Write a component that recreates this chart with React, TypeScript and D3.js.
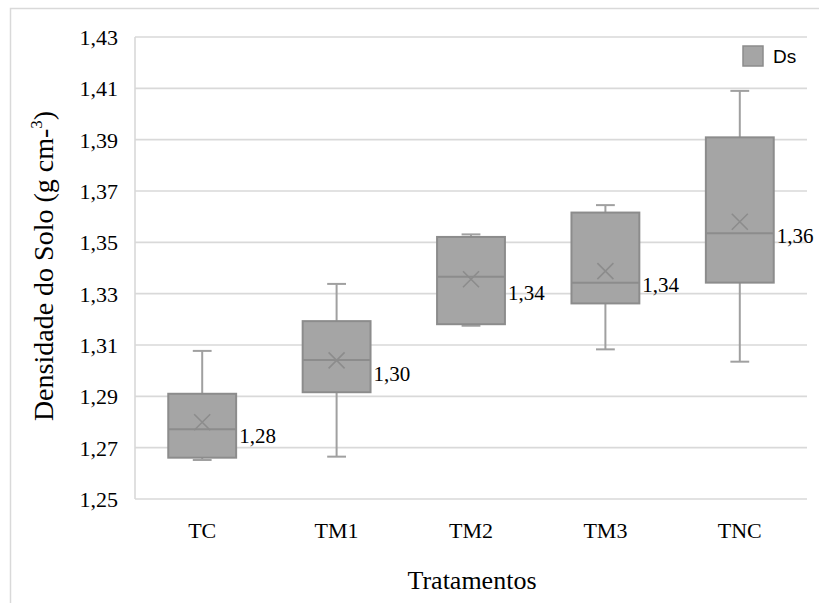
import React from "react";
import * as d3 from "d3";

const categories = ["TC", "TM1", "TM2", "TM3", "TNC"];
const minValues = [1.2652, 1.2665, 1.3175, 1.3083, 1.3035];
const q1Values = [1.2661, 1.2916, 1.3181, 1.3262, 1.3343];
const medianValues = [1.2772, 1.3042, 1.3366, 1.3343, 1.3535];
const q3Values = [1.291, 1.3193, 1.3521, 1.3616, 1.3909];
const maxValues = [1.3077, 1.3338, 1.3531, 1.3645, 1.409];
const meanValues = [1.2799, 1.304, 1.3356, 1.3388, 1.358];
const yTicks = [1.25, 1.27, 1.29, 1.31, 1.33, 1.35, 1.37, 1.39, 1.41, 1.43];
const seriesName = "Ds";

const W = 819;
const H = 603;
const plotLeft = 135;
const plotRight = 807;
const plotTop = 37;
const plotBottom = 499;

const serif = "'Liberation Serif', 'Times New Roman', serif";
const fmt = (v: number) => d3.format(".2f")(v).replace(".", ",");

const App: React.FC = () => {
  const x = d3.scaleBand<string>().domain(categories).range([plotLeft, plotRight]);
  const y = d3
    .scaleLinear()
    .domain([yTicks[0], yTicks[yTicks.length - 1]])
    .range([plotBottom, plotTop]);

  const boxW = x.bandwidth() * 0.505;
  const capW = x.bandwidth() * 0.14;
  const xs = 8;

  return (
    <svg
      width={W}
      height={H}
      style={{ position: "absolute", left: 0, top: 0, background: "#fff" }}
    >
      <rect x={10.5} y={8.5} width={900} height={700} fill="#fff" stroke="#d9d9d9" strokeWidth={1.5} />

      {/* grid */}
      {yTicks.map((t) => (
        <g key={t}>
          <line x1={plotLeft} x2={plotRight} y1={y(t)} y2={y(t)} stroke="#d9d9d9" strokeWidth={1.6} />
          <text
            x={118}
            y={y(t) + 8}
            textAnchor="end"
            fontFamily={serif}
            fontSize={22}
            fill="#000"
          >
            {fmt(t)}
          </text>
        </g>
      ))}
      <line x1={plotLeft} x2={plotLeft} y1={plotTop} y2={plotBottom} stroke="#d9d9d9" strokeWidth={1.6} />

      {/* boxes */}
      {categories.map((c, i) => {
        const cx = (x(c) as number) + x.bandwidth() / 2;
        const left = cx - boxW / 2;
        const my = y(meanValues[i]);
        return (
          <g key={c}>
            <line x1={cx} x2={cx} y1={y(maxValues[i])} y2={y(q3Values[i])} stroke="#a0a0a0" strokeWidth={2} />
            <line x1={cx} x2={cx} y1={y(q1Values[i])} y2={y(minValues[i])} stroke="#a0a0a0" strokeWidth={2} />
            <line x1={cx - capW / 2} x2={cx + capW / 2} y1={y(maxValues[i])} y2={y(maxValues[i])} stroke="#a0a0a0" strokeWidth={2} />
            <line x1={cx - capW / 2} x2={cx + capW / 2} y1={y(minValues[i])} y2={y(minValues[i])} stroke="#a0a0a0" strokeWidth={2} />
            <rect
              x={left}
              y={y(q3Values[i])}
              width={boxW}
              height={y(q1Values[i]) - y(q3Values[i])}
              fill="#a5a5a5"
              stroke="#8c8c8c"
              strokeWidth={2}
            />
            <line x1={left} x2={left + boxW} y1={y(medianValues[i])} y2={y(medianValues[i])} stroke="#8c8c8c" strokeWidth={2} />
            <path
              d={`M${cx - xs},${my - xs}L${cx + xs},${my + xs}M${cx - xs},${my + xs}L${cx + xs},${my - xs}`}
              stroke="#8c8c8c"
              strokeWidth={1.6}
              fill="none"
            />
            <text x={left + boxW + 3} y={my + 21} fontFamily={serif} fontSize={21} fill="#000">
              {fmt(meanValues[i])}
            </text>
            <text x={cx} y={538} textAnchor="middle" fontFamily={serif} fontSize={22} fill="#000">
              {c}
            </text>
          </g>
        );
      })}

      {/* axis titles */}
      <text x={472} y={589} textAnchor="middle" fontFamily={serif} fontSize={26} fill="#000">
        Tratamentos
      </text>
      <text
        transform={`translate(53, 266) rotate(-90)`}
        textAnchor="middle"
        fontFamily={serif}
        fontSize={28}
        fill="#000"
      >
        Densidade do Solo (g cm-<tspan fontSize={17} dy={-11}>3</tspan>
        <tspan dy={11}>)</tspan>
      </text>

      {/* legend */}
      <rect x={743} y={46} width={20} height={20} fill="#a5a5a5" stroke="#8c8c8c" strokeWidth={1.5} />
      <text x={773} y={63} fontFamily="'Liberation Sans', Arial, sans-serif" fontSize={19} fill="#000">
        {seriesName}
      </text>
    </svg>
  );
};

export default App;
